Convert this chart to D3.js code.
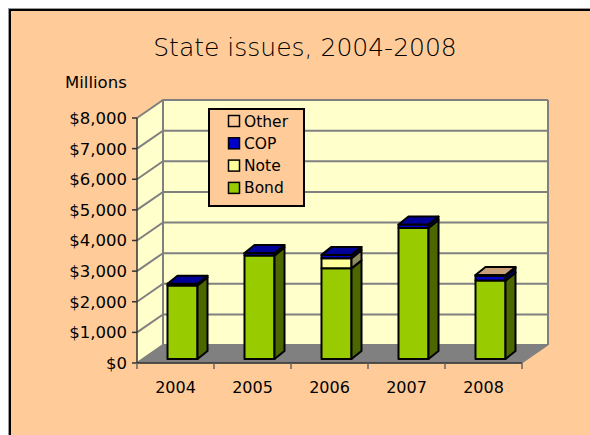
<!DOCTYPE html>
<html>
<head>
<meta charset="utf-8">
<script src="https://cdn.jsdelivr.net/npm/d3@7"></script>
<style>
  html, body { margin: 0; padding: 0; background: #ffffff; }
  svg { display: block; }
  text { font-family: "DejaVu Sans", Verdana, sans-serif; fill: #000; }
</style>
</head>
<body>
<svg id="chart" width="590" height="435"></svg>
<script>
// Issue volume by year, in millions of dollars
const years  = ["2004", "2005", "2006", "2007", "2008"];
const bond   = [2400, 3380, 2960, 4280, 2560];
const note   = [0, 0, 330, 0, 0];
const cop    = [60, 80, 110, 110, 150];
const other  = [0, 0, 0, 0, 30];
const yTicks = [0, 1000, 2000, 3000, 4000, 5000, 6000, 7000, 8000];

const seriesNames = ["Bond", "Note", "COP", "Other"];
const legendOrder = ["Other", "COP", "Note", "Bond"];
const colors = {
  Bond:  { front: "#99cc00", side: "#4c6600", top: "#739900" },
  Note:  { front: "#ffff99", side: "#8c8c5e", top: "#cccc7a" },
  COP:   { front: "#0000cc", side: "#000066", top: "#000099" },
  Other: { front: "#ffcc99", side: "#806650", top: "#c89f78" }
};

const rows = years.map((yr, i) => ({ year: yr, Bond: bond[i], Note: note[i], COP: cop[i], Other: other[i] }));
const stacked = d3.stack().keys(seriesNames)(rows);

const svg = d3.select("#chart");

// chart area frame
svg.append("rect").attr("x", 8.5).attr("y", 8.5).attr("width", 600).attr("height", 450)
  .attr("fill", "none").attr("stroke", "#999").attr("stroke-width", 1);
svg.append("rect").attr("x", 10).attr("y", 10).attr("width", 600).attr("height", 450)
  .attr("fill", "#ffcc99").attr("stroke", "#000").attr("stroke-width", 2);

// 3D plot geometry
const front = { left: 137, right: 522, floor: 363 };
const depth = { dx: 26, dy: -18 };
const y = d3.scaleLinear().domain([0, 8000]).range([front.floor, 118]);
const x = d3.scaleBand().domain(years).range([front.left, front.right]);
const barOff = { dx: 7, dy: -4 };   // bar front plane sits a little inside the floor
const barDepth = { dx: 10, dy: -8 };
const barW = 30;

const wallTop = y(8000);
const line = d3.line();

// side wall and back wall
svg.append("path")
  .attr("d", line([[front.left, front.floor], [front.left, wallTop], [front.left + depth.dx, wallTop + depth.dy],
                   [front.left + depth.dx, front.floor + depth.dy]]) + "Z")
  .attr("fill", "#ffffcc").attr("stroke", "none");
svg.append("rect")
  .attr("x", front.left + depth.dx).attr("y", wallTop + depth.dy)
  .attr("width", front.right - front.left).attr("height", front.floor - wallTop)
  .attr("fill", "#ffffcc");

// gridlines on both walls
const grid = svg.append("g").attr("stroke", "#808080").attr("stroke-width", 2).attr("fill", "none");
yTicks.forEach(v => {
  const yy = y(v);
  grid.append("path").attr("d", line([[front.left, yy], [front.left + depth.dx, yy + depth.dy],
                                      [front.right + depth.dx, yy + depth.dy]]));
});
grid.append("path").attr("d", line([[front.left + depth.dx, front.floor + depth.dy],
                                    [front.left + depth.dx, wallTop + depth.dy]]));
grid.append("path").attr("d", line([[front.right + depth.dx, front.floor + depth.dy],
                                    [front.right + depth.dx, wallTop + depth.dy]]));

// floor
svg.append("path")
  .attr("d", line([[front.left, front.floor], [front.right, front.floor],
                   [front.right + depth.dx, front.floor + depth.dy],
                   [front.left + depth.dx, front.floor + depth.dy]]) + "Z")
  .attr("fill", "#808080").attr("stroke", "#808080").attr("stroke-width", 1);

// value axis on the front-left edge
const axisG = svg.append("g").attr("stroke", "#333").attr("stroke-width", 1.5);
axisG.append("line").attr("x1", front.left).attr("x2", front.left).attr("y1", wallTop).attr("y2", front.floor);
yTicks.forEach(v => {
  axisG.append("line").attr("x1", front.left - 5).attr("x2", front.left).attr("y1", y(v)).attr("y2", y(v));
});
svg.append("g").selectAll("text").data(yTicks).join("text")
  .attr("x", 127).attr("y", d => y(d)).attr("dy", "0.36em")
  .attr("text-anchor", "end").attr("font-size", 16.5)
  .text(d => "$" + d3.format(",")(d));

// category axis along the front floor edge
axisG.append("line").attr("x1", front.left).attr("x2", front.right).attr("y1", front.floor).attr("y2", front.floor);
const bounds = years.map(d => x(d)).concat([front.right]);
bounds.forEach(b => {
  axisG.append("line").attr("x1", b).attr("x2", b).attr("y1", front.floor).attr("y2", front.floor + 6)
    .attr("stroke", "#666");
});
svg.append("g").selectAll("text").data(years).join("text")
  .attr("x", d => x(d) + x.bandwidth() / 2).attr("y", 393)
  .attr("text-anchor", "middle").attr("font-size", 16)
  .text(d => d);

// stacked 3D bars
const barsG = svg.append("g").attr("stroke", "#000").attr("stroke-width", 2).attr("stroke-linejoin", "round");
years.forEach((yr, i) => {
  const x0 = x(yr) + (x.bandwidth() - barW) / 2 + barOff.dx;
  const x1 = x0 + barW;
  let lastTop = null, lastKey = null;
  stacked.forEach(s => {
    const [v0, v1] = s[i];
    if (v1 <= v0) return;
    const yb = y(v0) + barOff.dy, yt = y(v1) + barOff.dy;
    const c = colors[s.key];
    barsG.append("path").attr("d", line([[x0, yb], [x1, yb], [x1, yt], [x0, yt]]) + "Z").attr("fill", c.front);
    barsG.append("path").attr("d", line([[x1, yb], [x1 + barDepth.dx, yb + barDepth.dy],
                                         [x1 + barDepth.dx, yt + barDepth.dy], [x1, yt]]) + "Z").attr("fill", c.side);
    lastTop = yt; lastKey = s.key;
  });
  if (lastTop !== null) {
    barsG.append("path").attr("d", line([[x0, lastTop], [x1, lastTop],
                                         [x1 + barDepth.dx, lastTop + barDepth.dy],
                                         [x0 + barDepth.dx, lastTop + barDepth.dy]]) + "Z")
      .attr("fill", colors[lastKey].top);
  }
});

// legend
const lg = svg.append("g");
lg.append("rect").attr("x", 209).attr("y", 109).attr("width", 95).attr("height", 97)
  .attr("fill", "#ffcc99").attr("stroke", "#000").attr("stroke-width", 2);
legendOrder.forEach((k, i) => {
  const cy = 121 + i * 22.3;
  lg.append("rect").attr("x", 228.5).attr("y", cy - 5.5).attr("width", 11).attr("height", 11)
    .attr("fill", colors[k].front).attr("stroke", "#000").attr("stroke-width", 1.5);
  lg.append("text").attr("x", 244).attr("y", cy).attr("dy", "0.36em").attr("font-size", 15.5).text(k);
});

// titles
svg.append("text").attr("x", 305).attr("y", 56).attr("text-anchor", "middle")
  .attr("font-size", 25).attr("font-weight", 300).text("State issues, 2004-2008");
svg.append("text").attr("x", 65).attr("y", 88).attr("font-size", 16.5).text("Millions");
</script>
</body>
</html>
